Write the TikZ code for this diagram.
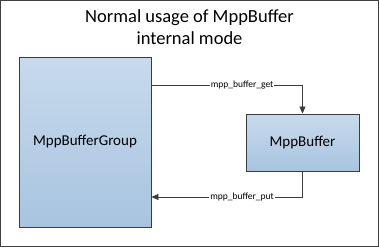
\documentclass[tikz,border=0pt]{standalone}
\usepackage{fontspec}
\setmainfont{Carlito}
\usepackage{xcolor}
\usepackage{tikz}
\usetikzlibrary{arrows.meta, positioning, calc}
\definecolor{myframe}{RGB}{64,64,64}
\definecolor{myedge}{RGB}{60,60,60}
\definecolor{boxtop}{RGB}{200,218,236}
\definecolor{boxbot}{RGB}{168,196,224}
\tikzset{
  bufbox/.style={rectangle, draw=myedge, top color=boxtop, bottom color=boxbot,
    align=center, line width=0.9pt, inner sep=0pt},
  arrow/.style={-{Triangle[length=7pt,width=6pt]}, line width=0.8pt, color=myedge},
  callname/.style={fill=white, inner sep=1pt, font=\fontsize{9.5}{11}\selectfont, text=black}
}

\begin{document}
\begin{tikzpicture}[x=1pt, y=-1pt]
  \useasboundingbox (0,0) rectangle (379,247);
  \draw[myframe, line width=1pt] (0.5,0.5) rectangle (378,246);

  \node[align=center, font=\fontsize{18.5}{22}\selectfont] (title) at (189.5,27)
    {Normal usage of MppBuffer\\internal mode};

  \node[bufbox, minimum width=132pt, minimum height=170pt,
    font=\fontsize{15}{18}\selectfont] (group) at (85,142) {MppBufferGroup};
  \node[bufbox, minimum width=113pt, minimum height=57pt,
    font=\fontsize{15}{18}\selectfont] (buffer) at (302.5,142.5) {MppBuffer};

  % Calls
  \draw[arrow] ([yshift=57pt]group.east) -| node[pos=0.3, callname] {mpp\_buffer\_get} (buffer.north);
  \draw[arrow] (buffer.south) |- node[pos=0.7, callname] {mpp\_buffer\_put} ([yshift=-55pt]group.east);
\end{tikzpicture}
\end{document}
